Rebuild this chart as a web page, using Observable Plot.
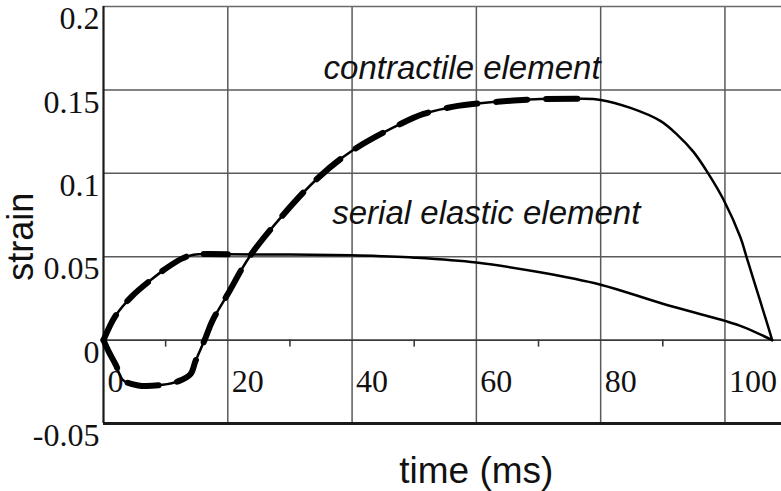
<!DOCTYPE html>
<html>
<head>
<meta charset="utf-8">
<script src="https://cdn.jsdelivr.net/npm/d3@7"></script>
<script src="https://cdn.jsdelivr.net/npm/@observablehq/plot@0.6"></script>
<style>
  html, body { margin: 0; padding: 0; background: #fff; }
  #chart svg { display: block; overflow: visible; }
</style>
</head>
<body>
<div id="chart"></div>
<script>
// ---- data ----
// contractile element strain vs time (ms)
const ceTime   = [0, 0.8, 2.0, 3.1, 5.6, 9.5, 12.1, 14.0, 14.8, 16.4, 17.5, 20.0, 23.5, 29.0, 34.6, 40.0, 47.8, 51.5, 57.0, 60.2, 66.0, 70.3, 76.3, 80.0, 84.8, 89.6, 92.3, 94.9, 97.3, 99.8, 102.5, 103.5, 104.6, 106.5, 107.6];
const ceStrain = [0, -0.0066, -0.015, -0.0238, -0.0272, -0.0268, -0.0246, -0.0204, -0.0126, 0.0012, 0.0114, 0.0276, 0.050, 0.0755, 0.0975, 0.1135, 0.1296, 0.1356, 0.1404, 0.1418, 0.1436, 0.1445, 0.1447, 0.1440, 0.1392, 0.1314, 0.1232, 0.1130, 0.1000, 0.0840, 0.0615, 0.0495, 0.0362, 0.0135, 0];
const ceDashedEnd = 76.3;
// serial elastic element strain vs time (ms)
const seTime   = [0, 1.9, 4.6, 7.6, 10.3, 12.7, 14.5, 20, 30, 40, 45, 50, 60, 70, 80, 90, 100, 103, 107.6];
const seStrain = [0, 0.0144, 0.0264, 0.0360, 0.0436, 0.0490, 0.0512, 0.0514, 0.0513, 0.0508, 0.0502, 0.0494, 0.0465, 0.0408, 0.0332, 0.0218, 0.0115, 0.0078, 0];
const seDashedEnd = 20;

const xTicks = [0, 20, 40, 60, 80, 100];
const xTickLabels = ["0", "20", "40", "60", "80", "100"];
const xMinorTicks = [10, 30, 50, 70, 90];
const yTicks = [-0.05, 0, 0.05, 0.1, 0.15, 0.2];
const yTickLabels = ["-0.05", "0", "0.05", "0.1", "0.15", "0.2"];
const yGrid = [0.05, 0.1, 0.15];
const xGrid = [20, 40, 60, 80, 100];

const curveLabels = ["contractile element", "serial elastic element"];
const curveLabelT = [57.7, 61.6];
const curveLabelS = [0.1627, 0.0757];

const xLabel = "time (ms)";
const yLabel = "strain";
const xLabelT = 60;
const yLabelT = -13.2;
const yLabelS = 0.062;

// ---- tables built from the arrays ----
const ce = ceTime.map((t, i) => ({t, s: ceStrain[i]}));
const se = seTime.map((t, i) => ({t, s: seStrain[i]}));
const ceDash = ce.filter(d => d.t <= ceDashedEnd);
const seDash = se.filter(d => d.t <= seDashedEnd);
const xT = xTicks.map((v, i) => ({v, label: xTickLabels[i]}));
const yT = yTicks.map((v, i) => ({v, label: yTickLabels[i]}));
const cl = curveLabels.map((text, i) => ({text, t: curveLabelT[i], s: curveLabelS[i]}));

const serif = "'Liberation Serif', 'Times New Roman', serif";
const sans = "'Liberation Sans', Arial, sans-serif";
const gridColor = "#5a5a5a";

const chart = Plot.plot({
  width: 781,
  height: 491,
  marginLeft: 103,
  marginRight: 0,
  marginTop: 6,
  marginBottom: 68,
  x: {domain: [0, 109.1], axis: null},
  y: {domain: [-0.05, 0.2], axis: null},
  style: {background: "#fff", color: "#111", fontFamily: sans},
  marks: [
    // grid
    Plot.ruleY(yGrid, {stroke: gridColor, strokeWidth: 1.5}),
    Plot.ruleX(xGrid, {stroke: gridColor, strokeWidth: 1.5}),
    // zero line and its minor ticks
    Plot.ruleY([0], {stroke: "#3a3a3a", strokeWidth: 1.8}),
    Plot.ruleX(xMinorTicks, {x: d => d, y1: 0, y2: 0, insetBottom: -7, stroke: "#3a3a3a", strokeWidth: 1.6}),
    // frame
    Plot.ruleY([0.2], {stroke: "#6a6a6a", strokeWidth: 1.6}),
    Plot.ruleY([-0.05], {stroke: "#1a1a1a", strokeWidth: 2.8}),
    Plot.ruleX([0], {stroke: "#1a1a1a", strokeWidth: 2.2}),
    // tick labels
    Plot.text(yT, {x: 0, y: "v", text: "label", textAnchor: "end", lineAnchor: "top", dx: -4, dy: 0,
      fontFamily: serif, fontSize: 32, fill: "#111"}),
    Plot.text(xT, {x: "v", y: -0.025, text: "label", textAnchor: "start", lineAnchor: "middle", dx: 4,
      fontFamily: serif, fontSize: 32, fill: "#111"}),
    // axis titles
    Plot.text([xLabel], {x: xLabelT, frameAnchor: "bottom", text: d => d, lineAnchor: "middle", dy: 48,
      fontFamily: sans, fontSize: 37, fill: "#111"}),
    Plot.text([yLabel], {x: yLabelT, y: yLabelS, text: d => d, rotate: -90, lineAnchor: "middle",
      fontFamily: sans, fontSize: 36, fill: "#111"}),
    // curves: thin solid lines
    Plot.line(se, {x: "t", y: "s", stroke: "#000", strokeWidth: 2.5, curve: "catmull-rom"}),
    Plot.line(ce, {x: "t", y: "s", stroke: "#000", strokeWidth: 2.5, curve: "catmull-rom"}),
    // thick dashed overlays
    Plot.line(seDash, {x: "t", y: "s", stroke: "#000", strokeWidth: 6, strokeDasharray: "28,18", curve: "catmull-rom"}),
    Plot.line(ceDash, {x: "t", y: "s", stroke: "#000", strokeWidth: 6, strokeDasharray: "31,19", curve: "catmull-rom"}),
    // curve labels
    Plot.text(cl, {x: "t", y: "s", text: "text", lineAnchor: "middle", fontFamily: sans, fontStyle: "italic",
      fontSize: 33, fill: "#111"})
  ]
});
document.getElementById("chart").appendChild(chart);
</script>
</body>
</html>
